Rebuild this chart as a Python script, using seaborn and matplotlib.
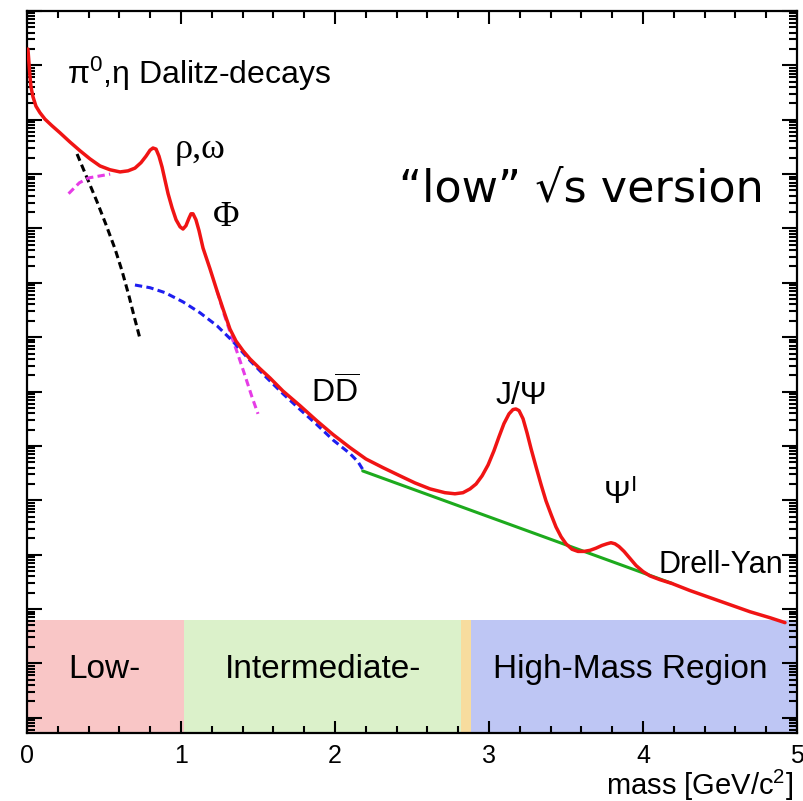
import numpy as np
import pandas as pd
import matplotlib
matplotlib.use("Agg")
import matplotlib.pyplot as plt
import seaborn as sns
from matplotlib.ticker import LogLocator, MultipleLocator, NullFormatter

# ---------------- data (mass in GeV/c^2, yield given as log10 of arbitrary units) -------------
red_mass = [0.006, 0.013, 0.019, 0.026, 0.039, 0.058, 0.084, 0.117, 0.162, 0.214, 0.279, 0.344,
            0.409, 0.474, 0.539, 0.604, 0.656, 0.701, 0.740, 0.773, 0.799, 0.818, 0.838, 0.857,
            0.877, 0.896, 0.916, 0.942, 0.968, 0.994, 1.013, 1.032, 1.052, 1.065, 1.078, 1.097,
            1.117, 1.143, 1.188, 1.234, 1.279, 1.318, 1.357, 1.403, 1.448, 1.513, 1.578, 1.662,
            1.773, 1.883, 1.987, 2.097, 2.201, 2.312, 2.422, 2.519, 2.617, 2.714, 2.779, 2.831,
            2.877, 2.916, 2.955, 2.994, 3.032, 3.065, 3.097, 3.130, 3.156, 3.175, 3.195, 3.221,
            3.247, 3.273, 3.305, 3.338, 3.370, 3.403, 3.435, 3.468, 3.500, 3.539, 3.578, 3.617,
            3.656, 3.695, 3.734, 3.766, 3.792, 3.818, 3.844, 3.877, 3.916, 3.955, 4.000, 4.045,
            4.110, 4.188, 4.305, 4.435, 4.565, 4.695, 4.825, 4.922]
red_log = [12.30, 12.04, 11.81, 11.60, 11.42, 11.25, 11.13, 11.01, 10.89, 10.76, 10.59, 10.43,
           10.28, 10.15, 10.08, 10.04, 10.06, 10.11, 10.21, 10.33, 10.44, 10.48, 10.46, 10.33,
           10.13, 9.89, 9.64, 9.38, 9.16, 9.03, 8.99, 9.05, 9.19, 9.27, 9.27, 9.16,
           8.96, 8.64, 8.26, 7.85, 7.47, 7.15, 6.93, 6.75, 6.60, 6.42, 6.25, 6.01,
           5.74, 5.46, 5.21, 4.97, 4.76, 4.60, 4.45, 4.32, 4.21, 4.14, 4.12, 4.14,
           4.21, 4.30, 4.45, 4.65, 4.91, 5.17, 5.41, 5.59, 5.67, 5.68, 5.65, 5.50,
           5.24, 4.95, 4.62, 4.29, 3.99, 3.74, 3.51, 3.33, 3.20, 3.10, 3.06, 3.06,
           3.08, 3.12, 3.17, 3.20, 3.22, 3.20, 3.15, 3.06, 2.93, 2.80, 2.69, 2.61,
           2.54, 2.47, 2.34, 2.21, 2.08, 1.95, 1.84, 1.75]

dalitz_mass = [0.325, 0.390, 0.455, 0.513, 0.571, 0.617, 0.662, 0.695, 0.734]
dalitz_log = [10.37, 9.93, 9.49, 9.07, 8.63, 8.22, 7.76, 7.39, 6.97]

vm_low_mass = [0.27, 0.34, 0.40, 0.54]
vm_low_log = [9.64, 9.84, 9.93, 10.00]
vm_high_mass = [1.234, 1.279, 1.325, 1.370, 1.416, 1.461, 1.500]
vm_high_log = [7.85, 7.43, 7.04, 6.68, 6.29, 5.90, 5.59]

ddbar_mass = [0.701, 0.799, 0.896, 1.013, 1.123, 1.234, 1.338, 1.448, 1.558, 1.662, 1.773,
              1.883, 1.987, 2.097, 2.149, 2.182]
ddbar_log = [7.96, 7.91, 7.82, 7.65, 7.45, 7.21, 6.92, 6.57, 6.25, 5.96, 5.67,
             5.39, 5.11, 4.86, 4.71, 4.56]

dy_mass = [2.18, 4.19]
dy_log = [4.54, 2.47]

region_names = ["Low-", "Intermediate-", "", "High-Mass Region"]
region_start = [0.0, 1.02, 2.82, 2.88]
region_end = [1.02, 2.82, 2.88, 5.0]
region_label_x = [0.50, 1.92, 2.85, 3.92]
region_colors = ["#F9C6C6", "#DBF1CA", "#F7DC9E", "#BEC6F4"]
region_top_log = 1.79

x_ticks = [0, 1, 2, 3, 4, 5]

# ---------------- figure ----------------
sns.set_theme(style="ticks")
plt.rcParams["font.family"] = ["Liberation Sans", "DejaVu Sans"]
plt.rcParams["mathtext.fontset"] = "custom"
plt.rcParams["mathtext.rm"] = "Liberation Sans"
plt.rcParams["mathtext.it"] = "Liberation Sans:italic"
plt.rcParams["text.color"] = "black"
plt.rcParams["xtick.labelcolor"] = "black"
plt.rcParams["xtick.color"] = "black"
plt.rcParams["ytick.color"] = "black"

fig = plt.figure(figsize=(8.04, 8.01), dpi=100)
ax = fig.add_axes([27 / 804, 68 / 801, 770 / 804, 722 / 801])

ylo, yhi = 10 ** -0.28, 10 ** 13

# region bands
for s, e, c, name, lx in zip(region_start, region_end, region_colors, region_names, region_label_x):
    ax.fill_between([s, e], ylo, 10 ** region_top_log, color=c, lw=0, zorder=0)
    if name:
        ax.text(lx, 10 ** 0.74, name, ha="center", va="baseline", fontsize=24,
                color="black", zorder=1)

def line(xs, ls, color, style="-", lw=2.3, z=3):
    df = pd.DataFrame({"mass": xs, "yield": np.power(10.0, ls)})
    sns.lineplot(data=df, x="mass", y="yield", ax=ax, color=color, lw=lw,
                 linestyle=style, sort=False, zorder=z)

dash = (0, (2.4, 1.4))
line(dalitz_mass, dalitz_log, "black", dash, 2.2, 2)
line(vm_low_mass, vm_low_log, "#E63CE6", dash, 2.2, 2)
line(vm_high_mass, vm_high_log, "#E63CE6", dash, 2.2, 2)
line(ddbar_mass, ddbar_log, "#1E1EF0", dash, 2.2, 2)
line(dy_mass, dy_log, "#1DAA1D", "-", 2.2, 2)
line(red_mass, red_log, "#F01414", "-", 2.5, 4)

ax.set_yscale("log")
ax.set_xlim(0, 5)
ax.set_ylim(ylo, yhi)
ax.set_xlabel("")
ax.set_ylabel("")

ax.set_xticks(x_ticks)
ax.xaxis.set_minor_locator(MultipleLocator(0.2))
ax.yaxis.set_major_locator(LogLocator(base=10, numticks=40))
ax.yaxis.set_minor_locator(LogLocator(base=10, subs=np.arange(2, 10), numticks=400))
ax.yaxis.set_major_formatter(NullFormatter())
ax.yaxis.set_minor_formatter(NullFormatter())
ax.tick_params(axis="both", which="both", direction="in", top=True, right=True,
               color="black", width=1.5)
ax.tick_params(axis="x", which="major", length=9, labelsize=18, pad=8, labelcolor="black")
ax.tick_params(axis="x", which="minor", length=5)
ax.tick_params(axis="y", which="major", length=11)
ax.tick_params(axis="y", which="minor", length=5.5)
for sp in ax.spines.values():
    sp.set_linewidth(1.6)
    sp.set_color("black")
    sp.set_visible(True)

# annotations
ax.text(0.26, 10 ** 11.66, r"π$^{0}$,η Dalitz-decays", fontsize=23, ha="left", va="baseline")
ax.text(0.96, 10 ** 10.30, "ρ,ω", fontsize=26, ha="left", va="baseline",
        family=["Liberation Serif", "DejaVu Serif"])
ax.text(1.29, 10 ** 9.21, "Φ", fontsize=26, ha="center", va="center",
        family=["Liberation Serif", "DejaVu Serif"])
ax.text(0.72, 0.753, "“low” √s version", fontsize=32, ha="center", va="center",
        transform=ax.transAxes, family=["DejaVu Sans"])
ax.text(2.003, 10 ** 5.79, r"D$\overline{\mathrm{D}}$", fontsize=23, ha="center", va="baseline")
ax.text(3.21, 10 ** 5.78, "J/Ψ", fontsize=23, ha="center", va="baseline")
ax.text(3.74, 10 ** 3.94, r"Ψ$^{\mathrm{I}}$", fontsize=23, ha="left", va="baseline")
ax.text(4.10, 10 ** 2.67, "Drell-Yan", fontsize=22, ha="left", va="baseline")

fig.text(0.987, -0.002, r"mass [GeV/c$^{2}$]", ha="right", va="bottom", fontsize=21)

fig.savefig("out.png", dpi=100, facecolor="white")
